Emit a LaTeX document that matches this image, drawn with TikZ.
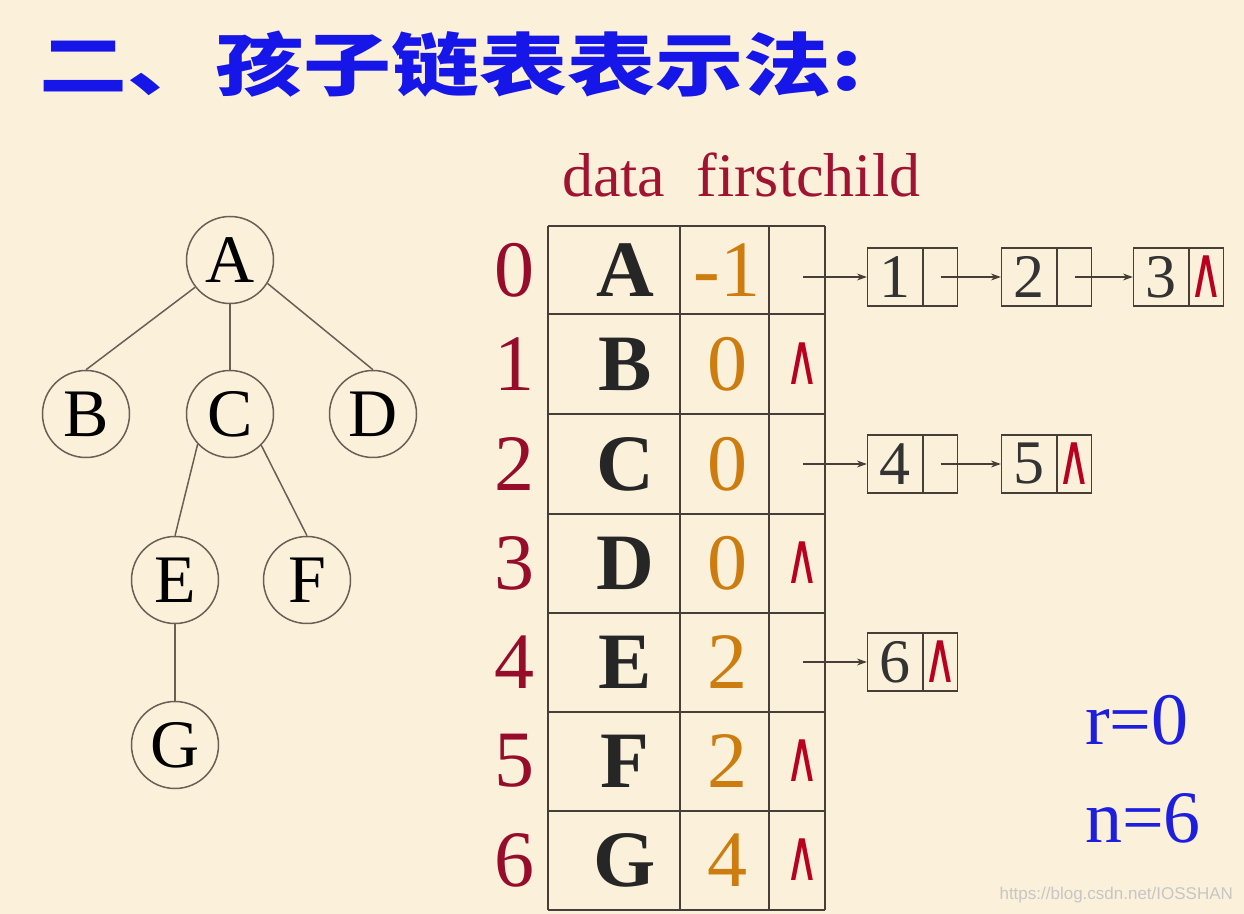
\documentclass[tikz,border=0pt]{standalone}
\usepackage{fontspec}
\setmainfont{Liberation Serif}
\newfontfamily\cjk{Noto Sans CJK SC}
\newfontfamily\symfont{DejaVu Sans}
\newfontfamily\wmfont{Liberation Sans}
\usepackage{xcolor}
\usetikzlibrary{arrows.meta, positioning}
\definecolor{bgcream}{RGB}{251,241,218}
\definecolor{titleblue}{RGB}{22,22,232}
\definecolor{hdrred}{RGB}{160,20,50}
\definecolor{idxred}{RGB}{150,12,42}
\definecolor{nullred}{RGB}{185,0,30}
\definecolor{fcorange}{RGB}{205,125,15}
\definecolor{rnblue}{RGB}{30,30,225}
\definecolor{treegray}{RGB}{105,95,85}
\definecolor{gridgray}{RGB}{70,62,55}
\newcommand{\nul}{\scalebox{0.64}[1]{∧}}

\begin{document}
\begin{tikzpicture}[x=0.5pt, y=-0.5pt,
  treenode/.style={circle, draw=treegray, line width=0.75pt, minimum size=43.5pt, inner sep=0pt, font=\fontsize{34}{36}\selectfont},
  treeedge/.style={draw=treegray, line width=0.75pt},
  gridline/.style={draw=gridgray, line width=0.6pt},
  idxlbl/.style={text=idxred, font=\fontsize{40}{42}\selectfont},
  datalbl/.style={text=black!85, font=\fontsize{40}{42}\selectfont\bfseries},
  fclbl/.style={text=fcorange, font=\fontsize{40}{42}\selectfont},
  nullmark/.style={text=nullred, inner sep=0pt, font=\symfont\fontsize{36}{38}\selectfont},
  numcell/.style={draw=gridgray, line width=0.6pt, minimum width=27.5pt, minimum height=29pt, inner sep=0pt, font=\fontsize{31}{33}\selectfont, text=black!80},
  ptrcell/.style={draw=gridgray, line width=0.6pt, minimum width=17pt, minimum height=29pt, inner sep=0pt},
  ptrarrow/.style={draw=gridgray, line width=0.6pt, -{Stealth[length=5pt,width=3.5pt]}}]

% Background
\fill[bgcream] (0,0) rectangle (1244,914);
\useasboundingbox (0,0) rectangle (1244,914);

% Title
\node[anchor=west, text=titleblue, font=\cjk\bfseries\fontsize{44}{46}\selectfont] (title) at (32,64) {\scalebox{1}[0.78]{二、孩子链表表示法:}};

% Draw tree
\node[treenode] (A) at (230,260) {A};
\node[treenode] (B) at (86,414) {B};
\node[treenode] (C) at (230,414) {C};
\node[treenode] (D) at (373,414) {D};
\node[treenode] (E) at (175,580) {E};
\node[treenode] (F) at (307,580) {F};
\node[treenode] (G) at (175,745) {G};
\draw[treeedge] (A.218) -- (B.north);
\draw[treeedge] (A.south) -- (C.north);
\draw[treeedge] (A.328) -- (D.north);
\draw[treeedge] (C.223) -- (E.north);
\draw[treeedge] (C.315) -- (F.north);
\draw[treeedge] (E.south) -- (G.north);

% Draw table
\node[anchor=base west, text=hdrred, font=\fontsize{31}{33}\selectfont] (hdr) at (555,197) {data~~firstchild};
\foreach \y in {226,314,414,514,613,712,811,910}
    \draw[gridline] (548,\y) -- (825,\y);
\foreach \x in {548,680,769,825}
    \draw[gridline] (\x,226) -- (\x,910);
\foreach \i/\d/\f/\y in {0/A/-1/270, 1/B/0/364, 2/C/0/464, 3/D/0/563, 4/E/2/662, 5/F/2/761, 6/G/4/860} {
    \node[idxlbl] (idx\i) at (514,\y) {\i};
    \node[datalbl] (dat\i) at (625,\y) {\d};
    \node[fclbl] (fc\i) at (727,\y) {\f};
}
\foreach \i/\y in {1/364, 3/563, 5/761, 6/860} {
    \node[nullmark] (nl\i) at (802,\y) {\nul};
}

% Child lists
\coordinate (pt0) at (803,277);
\coordinate (pt2) at (803,464);
\coordinate (pt4) at (803,662);
\node[numcell] (c1) at (895,277) {1};
\node[ptrcell, right=0pt of c1] (p1) {};
\node[numcell] (c2) at (1029,277) {2};
\node[ptrcell, right=0pt of c2] (p2) {};
\node[numcell] (c3) at (1161,277) {3};
\node[ptrcell, right=0pt of c3, text=nullred, font=\symfont\fontsize{36}{38}\selectfont] (p3) {\nul};
\node[numcell] (c4) at (895,464) {4};
\node[ptrcell, right=0pt of c4] (p4) {};
\node[numcell] (c5) at (1029,464) {5};
\node[ptrcell, right=0pt of c5, text=nullred, font=\symfont\fontsize{36}{38}\selectfont] (p5) {\nul};
\node[numcell] (c6) at (895,662) {6};
\node[ptrcell, right=0pt of c6, text=nullred, font=\symfont\fontsize{36}{38}\selectfont] (p6) {\nul};
\draw[ptrarrow] (pt0) -- (c1.west);
\draw[ptrarrow] (p1.center) -- (c2.west);
\draw[ptrarrow] (p2.center) -- (c3.west);
\draw[ptrarrow] (pt2) -- (c4.west);
\draw[ptrarrow] (p4.center) -- (c5.west);
\draw[ptrarrow] (pt4) -- (c6.west);

% Root and size
\node[anchor=base west, text=rnblue, font=\fontsize{37}{39}\selectfont] (root) at (1078,745) {r=0};
\node[anchor=base west, text=rnblue, font=\fontsize{37}{39}\selectfont] (size) at (1078,842) {n=6};

% Watermark
\node[anchor=east, text=gray!45, font=\wmfont\fontsize{8.5}{10}\selectfont] (wm) at (1240,895) {https://blog.csdn.net/IOSSHAN};
\end{tikzpicture}
\end{document}
